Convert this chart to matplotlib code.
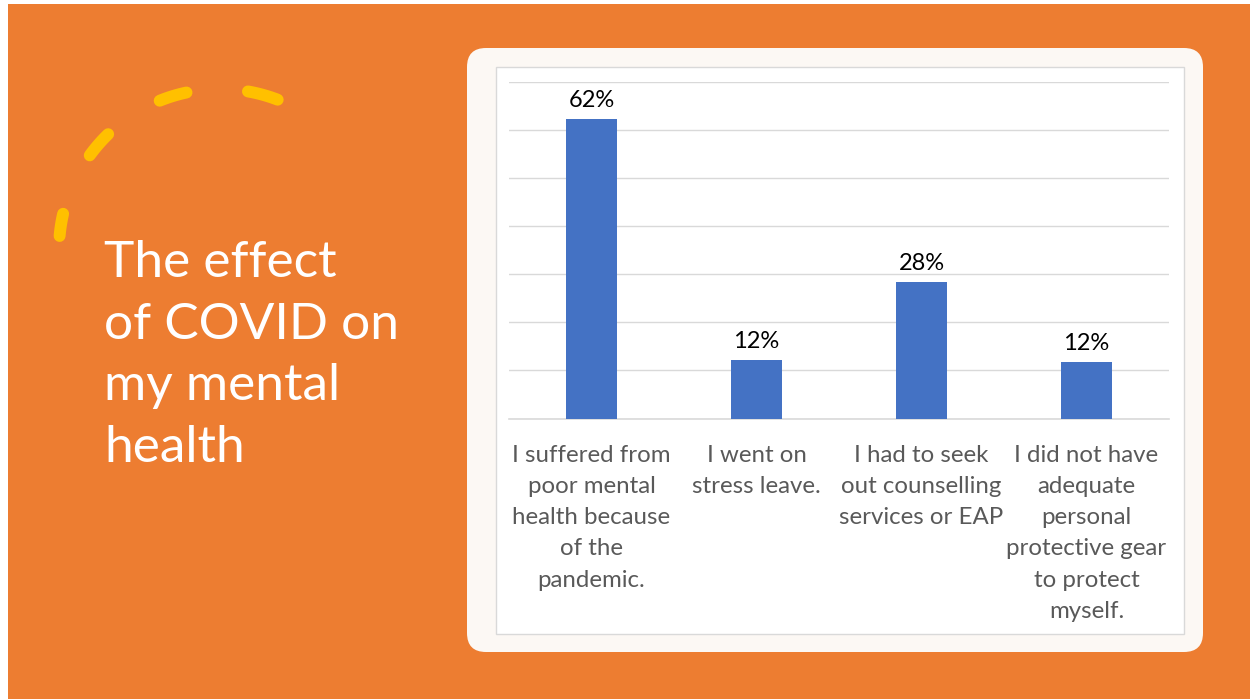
import numpy as np
import matplotlib
matplotlib.use("Agg")
import matplotlib.pyplot as plt
from matplotlib.patches import FancyBboxPatch, Rectangle

# ---- data ----
categories = [
    "I suffered from\npoor mental\nhealth because\nof the\npandemic.",
    "I went on\nstress leave.",
    "I had to seek\nout counselling\nservices or EAP",
    "I did not have\nadequate\npersonal\nprotective gear\nto protect\nmyself.",
]
values = [62.3, 12.1, 28.4, 11.7]
title_lines = ["The effect", "of COVID on", "my mental", "health"]
y_max = 70
y_step = 10

# ---- styling ----
ORANGE = "#ED7D31"
CARD = "#FCF8F4"
BLUE = "#4472C4"
GRID = "#D9D9D9"
YELLOW = "#FFC000"
W, H = 1250, 699

plt.rcParams['font.family'] = ['Lato', 'DejaVu Sans']

fig = plt.figure(figsize=(W / 100, H / 100), dpi=100)
fig.patch.set_facecolor("white")

# background axes in pixel coordinates
bg = fig.add_axes([0, 0, 1, 1])
bg.set_xlim(0, W)
bg.set_ylim(H, 0)
bg.axis("off")

bg.add_patch(Rectangle((8, 4), W - 8, H - 4, facecolor=ORANGE, edgecolor="none"))
bg.add_patch(FancyBboxPatch((467 + 19, 48 + 19), 736 - 38, 604 - 38,
                            boxstyle="round,pad=19", facecolor=CARD, edgecolor="none"))
bg.add_patch(Rectangle((496, 67), 688, 567, facecolor="white", edgecolor=GRID, linewidth=1.0))

# dashed decorative arc
cx, cy, r = 220, 250, 161
for a0, a1 in [(167, 175), (134, 144), (102, 112), (69, 80)]:
    t = np.radians(np.linspace(a0, a1, 30))
    bg.plot(cx + r * np.cos(t), cy - r * np.sin(t), color=YELLOW, lw=8.6,
            solid_capstyle="round")

# title
for i, line in enumerate(title_lines):
    bg.text(104, 277 + i * 61.7, line, color="white", fontsize=37,
            fontweight="normal", ha="left", va="baseline")

# chart axes
left, right = 509 / W, 1169 / W
bottom, top = 1 - 418.5 / H, 1 - 81.7 / H
ax = fig.add_axes([left, bottom, right - left, top - bottom])
ax.set_facecolor("none")
x = np.arange(len(categories))
bars = ax.bar(x, values, width=0.31, color=BLUE, zorder=3)
ax.set_xlim(-0.5, len(categories) - 0.5)
ax.set_ylim(0, y_max)
ax.set_yticks(np.arange(0, y_max + 1, y_step))
ax.yaxis.grid(True, color=GRID, linewidth=1.0)
ax.set_axisbelow(True)
ax.tick_params(axis="y", left=False, labelleft=False)
ax.tick_params(axis="x", bottom=False, pad=15.5)
for s in ["left", "right", "top"]:
    ax.spines[s].set_visible(False)
ax.spines["bottom"].set_color(GRID)
ax.spines["bottom"].set_linewidth(1.2)
ax.set_xticks(x)
ax.set_xticklabels(categories, fontsize=17.3, color="#595959", linespacing=1.6)

for b, v in zip(bars, values):
    ax.annotate(f"{v:.0f}%", (b.get_x() + b.get_width() / 2, v),
                xytext=(0, 8.5), textcoords="offset points",
                ha="center", va="baseline", fontsize=17, color="black")

fig.savefig("out.png", dpi=100, facecolor=fig.get_facecolor())
